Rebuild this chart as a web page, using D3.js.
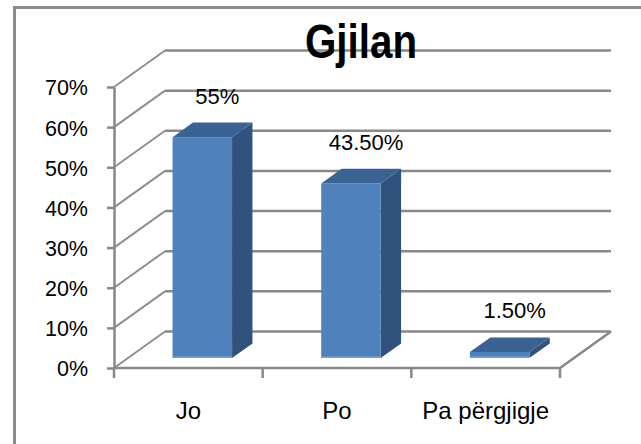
<!DOCTYPE html>
<html>
<head>
<meta charset="utf-8">
<script src="https://d3js.org/d3.v7.min.js"></script>
<style>
    body { margin: 0; background: #fff; }
    text { font-family: "Liberation Sans", Arial, sans-serif; fill: #000; }
    .title { font-weight: bold; }
    .grid { stroke: #888888; stroke-width: 2.5; fill: none; }
    .wall { stroke: #8f8f8f; stroke-width: 2; fill: none; }
</style>
</head>
<body>
<div id="chart"></div>
<script>
// chart data
let categories = ["Jo", "Po", "Pa përgjigje"];
let values = [0.55, 0.435, 0.015];
let valueLabels = ["55%", "43.50%", "1.50%"];
let yTicks = [0, 0.1, 0.2, 0.3, 0.4, 0.5, 0.6, 0.7];
let title = "Gjilan";

/**
 * Constructor for the 3D column chart
 */
function Column3D(){
    let self = this;

    self.init();
};

/**
 * Sets up svg, scales and draws walls, bars and labels
 */
Column3D.prototype.init = function(){
    let self = this;
    self.width = 641;
    self.height = 444;

    //depth of the back wall and of the bars (as part of the wall depth)
    self.depth = {dx: 51, dy: -36.5};
    self.barStart = 0.274;
    self.barDepth = 0.4;

    let div = d3.select("#chart");
    self.svg = div.append("svg")
        .attr("width", self.width)
        .attr("height", self.height);

    //Chart border
    self.svg.append("rect")
        .attr("x", 14.5)
        .attr("y", 7.5)
        .attr("width", 700)
        .attr("height", 500)
        .attr("fill", "none")
        .attr("stroke", "#8c8c8c")
        .attr("stroke-width", 3);

    self.yScale = d3.scaleLinear()
        .domain([0, 0.7])
        .range([368, 87]);

    self.xCat = d3.scaleBand()
        .domain(categories)
        .range([114, 560]);

    self.xBar = d3.scaleBand()
        .domain(categories)
        .range([114, 560])
        .paddingInner(0.6)
        .paddingOuter(0.3);

    let dx = self.depth.dx, dy = self.depth.dy;
    let x0 = self.xCat.range()[0], x1 = self.xCat.range()[1];

    //Back wall gridlines
    self.svg.selectAll(".grid")
        .data(yTicks)
        .enter()
        .append("line")
        .attr("class", "grid")
        .attr("x1", x0 + dx)
        .attr("x2", x1 + dx)
        .attr("y1", function(d) { return self.yScale(d) + dy; })
        .attr("y2", function(d) { return self.yScale(d) + dy; });

    //Side wall diagonals
    self.svg.selectAll(".wall")
        .data(yTicks)
        .enter()
        .append("line")
        .attr("class", "wall")
        .attr("x1", x0)
        .attr("x2", x0 + dx)
        .attr("y1", function(d) { return self.yScale(d); })
        .attr("y2", function(d) { return self.yScale(d) + dy; });

    //Floor front and right edge
    self.svg.append("path")
        .attr("class", "grid")
        .attr("d", "M" + x0 + "," + self.yScale(0) + "L" + x1 + "," + self.yScale(0) +
            "L" + (x1 + dx) + "," + (self.yScale(0) + dy));

    //Category ticks on the floor edge
    let boundaries = categories.map(function(c) { return self.xCat(c); }).concat([x1]);
    self.svg.selectAll(".xtick")
        .data(boundaries)
        .enter()
        .append("line")
        .attr("class", "grid xtick")
        .attr("x1", function(d) { return d; })
        .attr("x2", function(d) { return d; })
        .attr("y1", self.yScale(0))
        .attr("y2", self.yScale(0) + 10);

    //Value axis
    let yAxis = d3.axisLeft(self.yScale)
        .tickValues(yTicks)
        .tickFormat(d3.format(".0%"))
        .tickSize(7)
        .tickSizeOuter(0)
        .tickPadding(19);

    let gy = self.svg.append("g")
        .attr("transform", "translate(" + x0 + ",0)")
        .call(yAxis);
    gy.select(".domain").attr("stroke", "#888888").attr("stroke-width", 2.5);
    gy.selectAll(".tick line").attr("stroke", "#888888").attr("stroke-width", 2.5);
    gy.selectAll(".tick text")
        .attr("font-size", 21.5)
        .attr("dy", "0.37em")
        .attr("font-family", "Liberation Sans, Arial, sans-serif")
        .attr("fill", "#000");

    //Bars
    let data = categories.map(function(c, i) {
        return {cat: c, value: values[i], label: valueLabels[i]};
    });

    let sx = self.barStart * dx, sy = self.barStart * dy;
    let bdx = self.barDepth * dx, bdy = self.barDepth * dy;
    let w = self.xBar.bandwidth();

    let bars = self.svg.selectAll(".bar")
        .data(data)
        .enter()
        .append("g")
        .attr("class", "bar");

    function pts(arr) {
        return arr.map(function(p) { return p[0] + "," + p[1]; }).join(" ");
    }

    //side face
    bars.append("polygon")
        .attr("fill", "#30527d")
        .attr("points", function(d) {
            let x = self.xBar(d.cat) + sx + w;
            let yt = self.yScale(d.value) + sy;
            let yb = self.yScale(0) + sy;
            return pts([[x, yt], [x + bdx, yt + bdy], [x + bdx, yb + bdy], [x, yb]]);
        });

    //top face
    bars.append("polygon")
        .attr("fill", "#3a6393")
        .attr("points", function(d) {
            let x = self.xBar(d.cat) + sx;
            let yt = self.yScale(d.value) + sy;
            return pts([[x, yt], [x + bdx, yt + bdy], [x + w + bdx, yt + bdy], [x + w, yt]]);
        });

    //front face
    bars.append("rect")
        .attr("fill", "#4f81bd")
        .attr("x", function(d) { return self.xBar(d.cat) + sx; })
        .attr("y", function(d) { return self.yScale(d.value) + sy; })
        .attr("width", w)
        .attr("height", function(d) { return self.yScale(0) - self.yScale(d.value); });

    //light bottom edge of front face
    bars.append("line")
        .attr("stroke", "#7aa1d2")
        .attr("stroke-width", 1.5)
        .attr("x1", function(d) { return self.xBar(d.cat) + sx; })
        .attr("x2", function(d) { return self.xBar(d.cat) + sx + w; })
        .attr("y1", self.yScale(0) + sy - 0.75)
        .attr("y2", self.yScale(0) + sy - 0.75);

    //Value labels
    self.svg.selectAll(".vlabel")
        .data(data)
        .enter()
        .append("text")
        .attr("class", "vlabel")
        .attr("text-anchor", "middle")
        .attr("font-size", 22)
        .attr("x", function(d) { return self.xBar(d.cat) + sx + w / 2 + 15; })
        .attr("y", function(d) { return self.yScale(d.value) + sy + bdy - 19; })
        .text(function(d) { return d.label; });

    //Category labels
    self.svg.selectAll(".clabel")
        .data(categories)
        .enter()
        .append("text")
        .attr("class", "clabel")
        .attr("text-anchor", "middle")
        .attr("font-size", 24)
        .attr("x", function(d) { return self.xCat(d) + self.xCat.bandwidth() / 2; })
        .attr("y", 419)
        .text(function(d) { return d; });

    //Title (narrow bold face, squeezed to the width seen in the original)
    self.svg.append("text")
        .attr("class", "title")
        .attr("text-anchor", "middle")
        .attr("font-size", 48)
        .attr("x", 361)
        .attr("y", 58)
        .attr("textLength", 112)
        .attr("lengthAdjust", "spacingAndGlyphs")
        .text(title);
};

let chart = new Column3D();
</script>
</body>
</html>
